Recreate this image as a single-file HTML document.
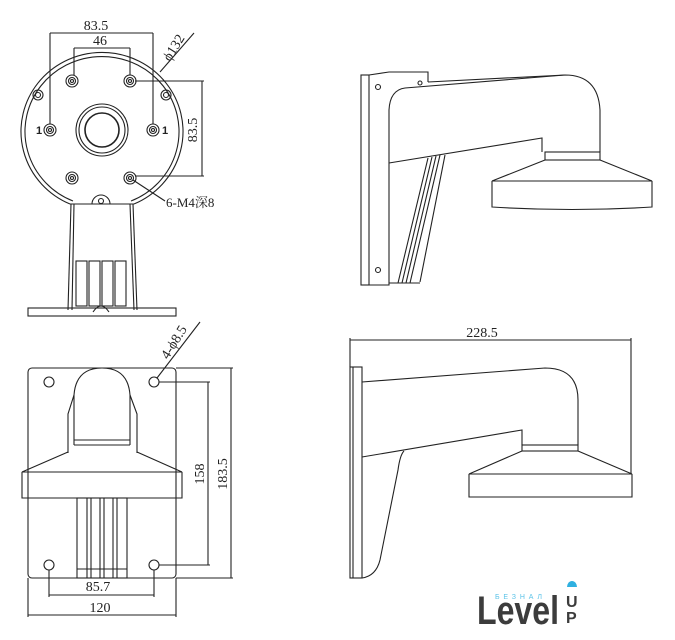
<!DOCTYPE html>
<html><head><meta charset="utf-8"><style>
html,body{margin:0;padding:0;background:#fff;}
svg{display:block;}
.t{font-family:"Liberation Serif","Noto Serif CJK SC",serif;fill:#222;font-size:14px;}
</style></head><body>
<svg width="675" height="640" viewBox="0 0 675 640" xmlns="http://www.w3.org/2000/svg">
<g fill="none" stroke="#222" stroke-width="1.1">
<!-- TOP LEFT -->
<line x1="50" y1="33" x2="153" y2="33"/><line x1="50" y1="33" x2="50" y2="124"/><line x1="153" y1="33" x2="153" y2="124"/>
<line x1="74" y1="48" x2="130" y2="48"/><line x1="74" y1="48" x2="74" y2="75"/><line x1="130" y1="48" x2="130" y2="75"/>
<path d="M70 204 A81 79 0 1 1 134 204"/>
<path d="M73 201 A77 75 0 1 1 131 201"/>
<line x1="70" y1="204" x2="134" y2="204"/>
<circle cx="102" cy="130" r="26"/><circle cx="102" cy="130" r="23"/><circle cx="102" cy="130" r="17" stroke-width="1.6"/>
<g>
<circle cx="72" cy="81" r="6"/><circle cx="72" cy="81" r="3.5"/><circle cx="72" cy="81" r="1.5"/>
<circle cx="130" cy="81" r="6"/><circle cx="130" cy="81" r="3.5"/><circle cx="130" cy="81" r="1.5"/>
<circle cx="50" cy="130" r="6"/><circle cx="50" cy="130" r="3.5"/><circle cx="50" cy="130" r="1.5"/>
<circle cx="153" cy="130" r="6"/><circle cx="153" cy="130" r="3.5"/><circle cx="153" cy="130" r="1.5"/>
<circle cx="72" cy="178" r="6"/><circle cx="72" cy="178" r="3.5"/><circle cx="72" cy="178" r="1.5"/>
<circle cx="130" cy="178" r="6"/><circle cx="130" cy="178" r="3.5"/><circle cx="130" cy="178" r="1.5"/>
<circle cx="38" cy="95" r="5"/><circle cx="38" cy="95" r="2.5"/>
<circle cx="166" cy="95" r="5"/><circle cx="166" cy="95" r="2.5"/>
<path d="M92 204 A9 9 0 0 1 110 204"/><circle cx="101" cy="201" r="2.5"/>
</g>
<line x1="135" y1="81" x2="204" y2="81"/><line x1="135" y1="176" x2="204" y2="176"/><line x1="202" y1="81" x2="202" y2="176"/>
<line x1="160" y1="72" x2="194" y2="33"/>
<line x1="133" y1="180" x2="165" y2="201"/>
<line x1="71" y1="204" x2="68" y2="310"/><line x1="74" y1="204" x2="72" y2="310"/>
<line x1="133" y1="204" x2="137" y2="310"/><line x1="130" y1="204" x2="134" y2="310"/>
<rect x="28" y="308" width="148" height="8"/>
<rect x="76" y="261" width="11" height="45"/><rect x="89" y="261" width="11" height="45"/><rect x="102" y="261" width="11" height="45"/><rect x="115" y="261" width="11" height="45"/>
<path d="M93 312 Q101 300 109 312"/>
<!-- BOTTOM LEFT -->
<rect x="28" y="368" width="148" height="210" rx="4"/>
<circle cx="49" cy="382" r="5"/><circle cx="154" cy="382" r="5"/><circle cx="49" cy="565" r="5"/><circle cx="154" cy="565" r="5"/>
<path d="M74 445 L74 395 Q76 368 102 368 Q128 368 130 395 L130 445"/>
<path d="M74 395 L68 414 L68 453 M130 395 L137 414 L137 453"/>
<line x1="74" y1="445" x2="130" y2="445"/><line x1="74" y1="440" x2="130" y2="440"/>
<path d="M68 452 L22 472 L182 472 L137 452"/>
<path d="M22 472 L22 498 L182 498 L182 472"/>
<rect x="77" y="498" width="50" height="80"/>
<line x1="87" y1="498" x2="87" y2="578"/><line x1="91" y1="498" x2="91" y2="578"/><line x1="100" y1="498" x2="100" y2="578"/><line x1="104" y1="498" x2="104" y2="578"/><line x1="113" y1="498" x2="113" y2="578"/><line x1="117" y1="498" x2="117" y2="578"/>
<line x1="77" y1="569" x2="127" y2="569"/>
<line x1="159" y1="382" x2="210" y2="382"/><line x1="159" y1="565" x2="210" y2="565"/><line x1="208" y1="382" x2="208" y2="565"/>
<line x1="176" y1="368" x2="233" y2="368"/><line x1="176" y1="578" x2="233" y2="578"/><line x1="231" y1="368" x2="231" y2="578"/>
<line x1="49" y1="570" x2="49" y2="597"/><line x1="154" y1="570" x2="154" y2="597"/><line x1="49" y1="595" x2="154" y2="595"/>
<line x1="28" y1="578" x2="28" y2="617"/><line x1="176" y1="578" x2="176" y2="617"/><line x1="28" y1="615" x2="176" y2="615"/>
<line x1="157" y1="378" x2="200" y2="322"/>
<!-- TOP RIGHT -->
<rect x="361" y="75" width="8" height="210"/>
<path d="M369 75 L389 72 L428 72 L428 82"/>
<path d="M369 285 L389 285 L389 163"/>
<circle cx="378" cy="87" r="2.5"/><circle cx="378" cy="270" r="2.5"/><circle cx="420" cy="83" r="2"/>
<path d="M389 163 L389 110 Q390 90 405 88 L565 75 Q598 75 600 110 L600 152"/>
<path d="M428 82 L565 75"/>
<path d="M389 163 L542 138 L542 152"/>
<rect x="545" y="152" width="55" height="8"/>
<path d="M545 160 L492 181 L652 181 L600 160"/>
<path d="M492 181 L492 207 Q572 212 652 207 L652 181"/>
<path d="M428 158 L398 283 M432 157 L402 283 M436 156 L406 283 M440 155 L410 283 M445 155 L420 282"/>
<line x1="389" y1="283" x2="420" y2="283"/>
<!-- BOTTOM RIGHT -->
<line x1="350" y1="340" x2="631" y2="340"/><line x1="350" y1="338" x2="350" y2="367"/><line x1="631" y1="338" x2="631" y2="474"/>
<rect x="350" y="367" width="12" height="211"/>
<line x1="353" y1="367" x2="353" y2="578"/>
<path d="M362 382 L545 368 Q578 368 578 400 L578 445"/>
<path d="M362 457 L522 430 L522 445"/>
<rect x="522" y="445" width="56" height="6"/>
<path d="M522 451 L469 474 L632 474 L578 451"/>
<path d="M469 474 L469 497 L632 497 L632 474"/>
<path d="M404 451 Q400 455 398 470 L380 560 Q376 576 362 578"/>
</g>
<g>
<text class="t" x="96" y="30" text-anchor="middle">83.5</text>
<text class="t" x="100" y="45" text-anchor="middle">46</text>
<text class="t" transform="translate(197,130) rotate(-90)" text-anchor="middle">83.5</text>
<text class="t" transform="translate(170,62) rotate(-58)">ϕ132</text>
<text class="t" x="166" y="207" style="font-size:13px">6-M4深8</text>
<text x="36" y="134" style="font-family:'Liberation Sans',sans-serif;font-size:11px;font-weight:bold;fill:#222">1</text>
<text x="162" y="134" style="font-family:'Liberation Sans',sans-serif;font-size:11px;font-weight:bold;fill:#222">1</text>
<text class="t" transform="translate(204,474) rotate(-90)" text-anchor="middle">158</text>
<text class="t" transform="translate(227,474) rotate(-90)" text-anchor="middle">183.5</text>
<text class="t" x="98" y="591" text-anchor="middle">85.7</text>
<text class="t" x="100" y="612" text-anchor="middle">120</text>
<text class="t" transform="translate(168,360) rotate(-58)">4-ϕ8.5</text>
<text class="t" x="482" y="337" text-anchor="middle">228.5</text>
<text x="477" y="624" textLength="82" lengthAdjust="spacingAndGlyphs" style="font-family:'Liberation Sans',sans-serif;font-weight:bold;font-size:40px;fill:#3c3c3c">Level</text>
<text x="495" y="599" textLength="47" lengthAdjust="spacing" style="font-family:'Liberation Sans',sans-serif;font-size:7px;fill:#5bc3e8">БЕЗНАЛ</text>
<text x="566" y="607" style="font-family:'Liberation Sans',sans-serif;font-weight:bold;font-size:16px;fill:#3c3c3c">U</text>
<text x="566" y="623" style="font-family:'Liberation Sans',sans-serif;font-weight:bold;font-size:16px;fill:#3c3c3c">P</text>
<path d="M567 587 A5 6 0 0 1 577 587 Z" fill="#2fb0e0"/>
</g>
</svg>
</body></html>
